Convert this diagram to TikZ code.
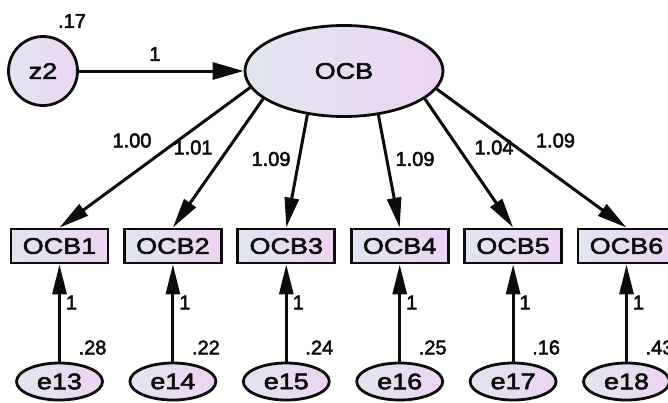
\documentclass[tikz,border=0pt]{standalone}
\usepackage{fontspec}
\setmainfont[FakeBold=2.5]{Liberation Sans}
\newfontfamily\varfont[FakeStretch=1.2,FakeBold=2.5]{Liberation Sans}
\usetikzlibrary{arrows.meta,shapes.geometric}

\definecolor{shadeL}{RGB}{225,229,240}
\definecolor{shadeR}{RGB}{237,212,243}
\definecolor{ink}{RGB}{12,12,12}

\tikzset{
  var/.style={draw=ink, line width=2.8pt, left color=shadeL, right color=shadeR,
    inner sep=0pt, text=ink, font=\varfont\fontsize{22.5}{22.5}\selectfont},
  latent/.style={var, ellipse},
  obsbox/.style={var, rectangle, minimum width=97pt, minimum height=34pt},
  errvar/.style={var, ellipse, minimum width=86pt, minimum height=37pt},
  regpath/.style={draw=ink, line width=3pt, -{Triangle[length=30pt,width=14pt]}},
  est/.style={text=ink, font=\fontsize{20}{20}\selectfont, inner sep=0pt},
}

\begin{document}
\begin{tikzpicture}[x=1pt,y=-1pt]
\useasboundingbox (0,0) rectangle (668,402);

% latent factor and its disturbance
\node[var, circle, minimum size=69pt] (z2) at (43,71) {z2};
\node[latent, minimum width=198pt, minimum height=91pt] (ocb) at (344,71) {OCB};
\draw[regpath, -{Triangle[length=31pt,width=17pt]}] (z2) -- (ocb);
\node[est] (z2var) at (72,21) {.17};
\node[est] (z2w) at (155,54) {1};

% indicators, loadings, error terms
\foreach \i/\x/\a/\lab/\lx/\ly/\e/\ev in {
    1/59.5/190/1.00/132/140.5/13/.28,
    2/172.9/199/1.01/193/147.5/14/.22,
    3/286.3/230/1.09/271/159/15/.24,
    4/399.7/308/1.09/415/159/16/.25,
    5/513.1/341/1.04/494/147.5/17/.16,
    6/626.5/349/1.09/555.5/140.5/18/.43} {
  \node[obsbox] (ocb\i) at (\x,246) {OCB\i};
  \node[errvar] (e\e) at (\x,381.5) {e\e};
  \draw[regpath] (ocb.\a) -- (ocb\i.north);
  \draw[regpath] (e\e.north) -- (ocb\i.south);
  \node[est] (load\i) at (\lx,\ly) {\lab};
  \node[est] (w\i) at (\x+12,302.5) {1};
  \node[est] (var\i) at (\x+33,347.5) {\ev};
}
\end{tikzpicture}
\end{document}
